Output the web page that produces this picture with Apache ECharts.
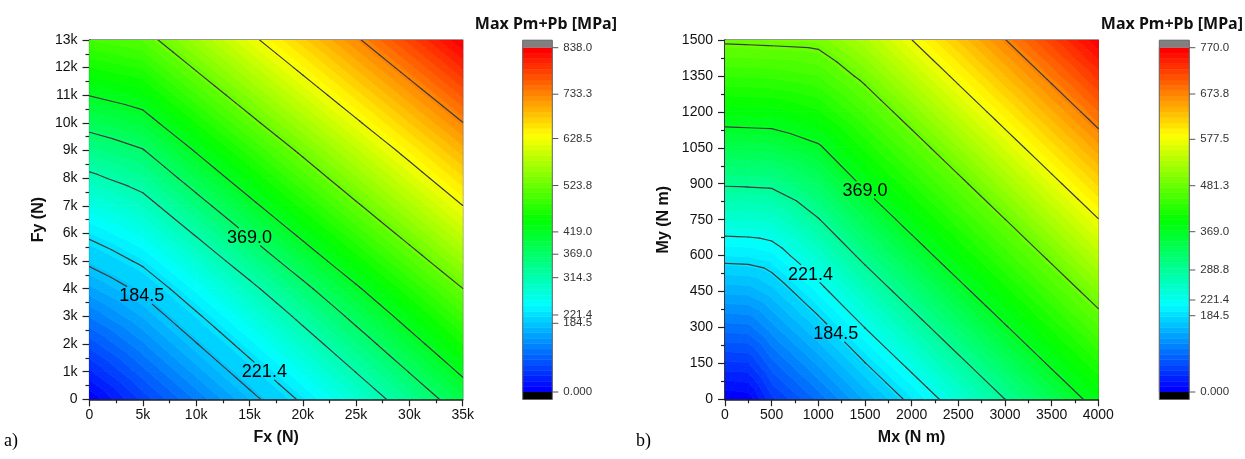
<!DOCTYPE html>
<html><head><meta charset="utf-8">
<script src="https://cdn.jsdelivr.net/npm/echarts@6/dist/echarts.min.js"></script>
<style>html,body{margin:0;padding:0;background:#fff}#c{width:1245px;height:459px}</style>
</head><body><div id="c"></div>
<script>
// ================= DATA =================
// Chart a) : Max Pm+Pb [MPa] vs Fx (N), Fy (N)
const fxValues = [0, 5000, 10000, 15000, 20000, 25000, 30000, 35000];
const fyValues = [0, 1000, 2000, 3000, 4000, 5000, 6000, 7000, 8000, 9000, 10000, 11000, 12000, 13000];
// rows = Fy, columns = Fx
const stressA = [
  [2.0, 63.0, 118.0, 173.0, 228.0, 283.0, 338.0, 393.0],
  [40.5, 95.4, 150.4, 205.4, 260.4, 315.4, 370.4, 425.4],
  [78.4, 127.8, 182.8, 237.8, 292.8, 347.8, 402.8, 457.8],
  [116.3, 160.2, 215.2, 270.2, 325.2, 380.2, 435.2, 490.2],
  [154.2, 193.3, 248.3, 303.3, 358.3, 413.3, 468.3, 523.3],
  [192.0, 228.4, 283.4, 338.4, 393.4, 448.4, 503.4, 558.4],
  [229.4, 263.2, 318.2, 373.2, 428.2, 483.2, 538.2, 593.2],
  [267.5, 298.0, 353.0, 408.0, 463.0, 518.0, 573.0, 628.0],
  [305.6, 332.5, 387.5, 442.5, 497.5, 552.5, 607.5, 662.5],
  [343.8, 366.9, 421.9, 476.9, 531.9, 586.9, 641.9, 696.9],
  [381.9, 402.4, 457.4, 512.4, 567.4, 622.4, 677.4, 732.4],
  [419.8, 437.7, 492.7, 547.7, 602.7, 657.7, 712.7, 767.7],
  [457.7, 472.9, 527.9, 582.9, 637.9, 692.9, 747.9, 802.9],
  [495.6, 508.0, 563.0, 618.0, 673.0, 728.0, 783.0, 838.0]
];
const contourLevelsA = [184.5, 221.4, 314.3, 369.0, 419.0, 523.8, 628.5, 733.3];
const colorbarTicksA = [0, 184.5, 221.4, 314.3, 369.0, 419.0, 523.8, 628.5, 733.3, 838.0];
const colorbarLabelsA = ['0.000', '184.5', '221.4', '314.3', '369.0', '419.0', '523.8', '628.5', '733.3', '838.0'];
const contourLabelLevelsA = [184.5, 221.4, 369.0];
const contourLabelAtA = [4900, 16400, 15000];   // Fx where each label sits on its line

// Chart b) : Max Pm+Pb [MPa] vs Mx (N m), My (N m)
const mxValues = [0, 250, 500, 1000, 1500, 2000, 2500, 3000, 3500, 4000];
const myValues = [0, 150, 300, 450, 600, 750, 900, 1050, 1200, 1350, 1500];
// rows = My, columns = Mx
const stressB = [
  [0.6, 4.0, 48.0, 95.0, 145.2, 193.0, 240.9, 288.7, 336.6, 384.4],
  [49.2, 51.0, 86.4, 133.4, 183.6, 231.4, 279.3, 327.1, 375.0, 422.8],
  [97.8, 99.5, 124.8, 171.8, 222.0, 269.8, 317.7, 365.5, 413.4, 461.2],
  [146.4, 148.0, 163.2, 210.2, 260.4, 308.2, 356.1, 403.9, 451.8, 499.6],
  [195.0, 196.3, 203.3, 248.6, 298.8, 346.6, 394.5, 442.3, 490.2, 538.0],
  [243.6, 244.8, 247.9, 287.0, 337.2, 385.0, 432.9, 480.7, 528.6, 576.4],
  [292.2, 293.3, 294.9, 325.4, 375.6, 423.4, 471.3, 519.1, 567.0, 614.8],
  [340.8, 341.9, 343.2, 363.8, 414.0, 461.8, 509.7, 557.5, 605.4, 653.2],
  [389.4, 390.5, 391.7, 408.2, 452.4, 500.2, 548.1, 595.9, 643.8, 691.6],
  [438.0, 439.1, 440.4, 450.2, 490.8, 538.6, 586.5, 634.3, 682.2, 730.0],
  [486.6, 487.7, 489.1, 492.2, 529.2, 577.0, 624.9, 672.7, 720.6, 768.4]
];
const contourLevelsB = [184.5, 221.4, 288.8, 369.0, 481.3, 577.5, 673.8];
const colorbarTicksB = [0, 184.5, 221.4, 288.8, 369.0, 481.3, 577.5, 673.8, 770.0];
const colorbarLabelsB = ['0.000', '184.5', '221.4', '288.8', '369.0', '481.3', '577.5', '673.8', '770.0'];
const contourLabelLevelsB = [369.0, 221.4, 184.5];
const contourLabelAtB = [1500, 916, 1186];      // Mx where each label sits on its line

// ================= LAYOUT / STYLE =================
// relative position of each colour-scale tick along the colour bar (Origin equal-height levels)
const cbPosA = [0, 0.1995, 0.2237, 0.3321, 0.4002, 0.4650, 0.5997, 0.7362, 0.8649, 1];
const cbPosB = [0, 0.2216, 0.2672, 0.3543, 0.4656, 0.5992, 0.7339, 0.8655, 1];
const NLEV = 64;
const SANS = '"Liberation Sans", Arial, sans-serif';

function makeMap(ticks, pos) {
  const n = ticks.length;
  function f(v) {
    let i = 1;
    while (i < n - 1 && v > ticks[i]) i++;
    return pos[i - 1] + (v - ticks[i - 1]) / (ticks[i] - ticks[i - 1]) * (pos[i] - pos[i - 1]);
  }
  function inv(t) {
    let i = 1;
    while (i < n - 1 && t > pos[i]) i++;
    return ticks[i - 1] + (t - pos[i - 1]) / (pos[i] - pos[i - 1]) * (ticks[i] - ticks[i - 1]);
  }
  return { f, inv };
}
const stops = [[0, [0, 0, 255]], [0.25, [0, 255, 255]], [0.5, [0, 255, 0]], [0.75, [255, 255, 0]], [1, [255, 0, 0]]];
function pal(t) {
  t = Math.max(0, Math.min(1, t));
  for (let i = 1; i < stops.length; i++) {
    if (t <= stops[i][0]) {
      const a = stops[i - 1], b = stops[i];
      const u = (t - a[0]) / (b[0] - a[0]);
      const c = a[1].map((v, k) => Math.round(v + (b[1][k] - v) * u));
      return 'rgb(' + c.join(',') + ')';
    }
  }
  return 'rgb(255,0,0)';
}
const bandColors = [];
for (let k = 0; k < NLEV; k++) bandColors.push(pal(k / (NLEV - 1)));

function makeBands(map) {
  const vals = [];
  for (let k = 0; k <= NLEV; k++) vals.push(map.inv(k / NLEV));
  return {
    vals,
    idx(z) { return Math.max(0, Math.min(NLEV - 1, Math.floor(map.f(z) * NLEV))); }
  };
}

function cellTris(api, xs, ys, Z, i, j) {
  const P = (a, b) => { const c = api.coord([xs[a], ys[b]]); return { x: c[0], y: c[1], z: Z[b][a] }; };
  const p00 = P(i, j), p10 = P(i + 1, j), p11 = P(i + 1, j + 1), p01 = P(i, j + 1);
  return [[p00, p10, p11], [p00, p11, p01]];
}
function clipPoly(poly, level, above) {
  const out = [];
  for (let k = 0; k < poly.length; k++) {
    const a = poly[k], b = poly[(k + 1) % poly.length];
    const ia = above ? a.z >= level : a.z < level;
    const ib = above ? b.z >= level : b.z < level;
    if (ia) out.push(a);
    if (ia !== ib) {
      const t = (level - a.z) / (b.z - a.z);
      out.push({ x: a.x + t * (b.x - a.x), y: a.y + t * (b.y - a.y), z: level });
    }
  }
  return out;
}

function fillSeries(xs, ys, Z, bands, gi) {
  const data = [];
  for (let j = 0; j < ys.length - 1; j++)
    for (let i = 0; i < xs.length - 1; i++) data.push([xs[i], ys[j], i, j]);
  return {
    type: 'custom', xAxisIndex: gi, yAxisIndex: gi, clip: true, z: 1, silent: true,
    encode: { x: 0, y: 1 }, data,
    renderItem(params, api) {
      const i = api.value(2), j = api.value(3);
      const children = [];
      for (const tri of cellTris(api, xs, ys, Z, i, j)) {
        const zs = tri.map(p => p.z);
        const k0 = bands.idx(Math.min(...zs)), k1 = bands.idx(Math.max(...zs));
        for (let k = k0; k <= k1; k++) {
          let poly = tri;
          if (k > k0) poly = clipPoly(poly, bands.vals[k], true);
          if (k < k1 && poly.length) poly = clipPoly(poly, bands.vals[k + 1], false);
          if (poly.length < 3) continue;
          const c = bandColors[k];
          children.push({ type: 'polygon', shape: { points: poly.map(p => [p.x, p.y]) },
            style: { fill: c, stroke: c, lineWidth: 0.8 } });
        }
      }
      return { type: 'group', children };
    }
  };
}

const measureCtx = document.createElement('canvas').getContext('2d');
const LABEL_FONT = '18px ' + SANS;
function levelSegs(api, xs, ys, Z, L) {
  const segs = [];
  for (let j = 0; j < ys.length - 1; j++)
    for (let i = 0; i < xs.length - 1; i++)
      for (const tri of cellTris(api, xs, ys, Z, i, j)) {
        const pts = [];
        for (let e = 0; e < 3; e++) {
          const a = tri[e], b = tri[(e + 1) % 3];
          if ((a.z >= L) !== (b.z >= L)) {
            const t = (L - a.z) / (b.z - a.z);
            pts.push([a.x + t * (b.x - a.x), a.y + t * (b.y - a.y)]);
          }
        }
        if (pts.length === 2) segs.push(pts);
      }
  return segs;
}
function insideInterval(s, r) {
  // Liang-Barsky: parameter range of segment s inside rect r
  const [x0, y0] = s[0], [x1, y1] = s[1];
  const dx = x1 - x0, dy = y1 - y0;
  let t0 = 0, t1 = 1;
  const p = [-dx, dx, -dy, dy], q = [x0 - r.x0, r.x1 - x0, y0 - r.y0, r.y1 - y0];
  for (let k = 0; k < 4; k++) {
    if (p[k] === 0) { if (q[k] < 0) return null; }
    else {
      const t = q[k] / p[k];
      if (p[k] < 0) { if (t > t1) return null; if (t > t0) t0 = t; }
      else { if (t < t0) return null; if (t < t1) t1 = t; }
    }
  }
  return [t0, t1];
}
function contourSeries(xs, ys, Z, levels, labelLevels, labelAt, gi) {
  return {
    type: 'custom', xAxisIndex: gi, yAxisIndex: gi, clip: true, z: 3, silent: true,
    encode: { x: 0, y: 1 }, data: levels.map((L, k) => [xs[0], ys[0], k]),
    renderItem(params, api) {
      const L = levels[api.value(2)];
      const segs = levelSegs(api, xs, ys, Z, L);
      const children = [];
      const rects = [];
      labelLevels.forEach((lv, n) => {
        if (lv !== L) return;
        const px = api.coord([labelAt[n], ys[0]])[0];
        let py = null;
        for (const s of segs) {
          const a = s[0], b = s[1];
          if ((a[0] - px) * (b[0] - px) <= 0 && a[0] !== b[0]) {
            py = a[1] + (px - a[0]) / (b[0] - a[0]) * (b[1] - a[1]); break;
          }
        }
        if (py === null) return;
        const text = lv.toFixed(1);
        measureCtx.font = LABEL_FONT;
        const w = measureCtx.measureText(text).width;
        rects.push({ x0: px - w / 2 - 2, x1: px + w / 2 + 2, y0: py - 9, y1: py + 9 });
        children.push({ type: 'text', x: px, y: py + 1, z2: 5,
          style: { text, font: LABEL_FONT, fill: '#000', align: 'center', verticalAlign: 'middle' } });
      });
      for (const s of segs) {
        let parts = [[0, 1]];
        for (const r of rects) {
          const iv = insideInterval(s, r);
          if (!iv) continue;
          const np = [];
          for (const [a, b] of parts) {
            if (iv[1] <= a || iv[0] >= b) { np.push([a, b]); continue; }
            if (iv[0] > a) np.push([a, iv[0]]);
            if (iv[1] < b) np.push([iv[1], b]);
          }
          parts = np;
        }
        for (const [a, b] of parts) {
          const P = t => [s[0][0] + t * (s[1][0] - s[0][0]), s[0][1] + t * (s[1][1] - s[0][1])];
          const p1 = P(a), p2 = P(b);
          children.push({ type: 'line', shape: { x1: p1[0], y1: p1[1], x2: p2[0], y2: p2[1] },
            style: { stroke: '#3c3c3c', lineWidth: 1.2, lineCap: 'round' } });
        }
      }
      return { type: 'group', children };
    }
  };
}

function colorbarSeries(gi) {
  const data = [];
  for (let k = 0; k < NLEV; k++) data.push([0.5, (k + 0.5) / NLEV, k]);
  return {
    type: 'custom', xAxisIndex: gi, yAxisIndex: gi, clip: false, z: 1, silent: true,
    encode: { x: 0, y: 1 }, data,
    renderItem(params, api) {
      const k = api.value(2);
      const a = api.coord([0, (k + 1) / NLEV]), b = api.coord([1, k / NLEV]);
      const c = bandColors[k];
      return { type: 'rect', shape: { x: a[0], y: a[1], width: b[0] - a[0], height: b[1] - a[1] },
        style: { fill: c, stroke: c, lineWidth: 0.5 } };
    }
  };
}
function colorbarFrameSeries(gi, ticks, labels, map) {
  const data = ticks.map((v, i) => [1, map.f(v), i]);
  return {
    type: 'custom', xAxisIndex: gi, yAxisIndex: gi, clip: false, z: 4, silent: true,
    encode: { x: 0, y: 1 }, data,
    renderItem(params, api) {
      const i = api.value(2);
      const p = api.coord([1, map.f(ticks[i])]);
      const children = [
        { type: 'line', shape: { x1: p[0], y1: p[1], x2: p[0] + 6, y2: p[1] }, style: { stroke: '#555', lineWidth: 1 } },
        { type: 'text', x: p[0] + 11, y: p[1], style: { text: labels[i], font: '11.5px ' + SANS, fill: '#333', align: 'left', verticalAlign: 'middle' } }
      ];
      if (i === 0) {
        const tl = api.coord([0, 1]), br = api.coord([1, 0]);
        const w = br[0] - tl[0];
        children.push({ type: 'rect', shape: { x: tl[0], y: tl[1] - 7.5, width: w, height: 7.5 }, style: { fill: '#808080' } });
        children.push({ type: 'rect', shape: { x: tl[0], y: br[1], width: w, height: 7.5 }, style: { fill: '#000' } });
        children.push({ type: 'rect', shape: { x: tl[0], y: tl[1] - 7.5, width: w, height: br[1] - tl[1] + 15 },
          style: { fill: 'none', stroke: '#666', lineWidth: 1 } });
      }
      return { type: 'group', children };
    }
  };
}

const mapA = makeMap(colorbarTicksA, cbPosA), mapB = makeMap(colorbarTicksB, cbPosB);
const bandsA = makeBands(mapA), bandsB = makeBands(mapB);

const kFmt = v => v === 0 ? '0' : (v / 1000) + 'k';
const plainFmt = v => String(v);
function valueAxis(extra) {
  return Object.assign({
    type: 'value', splitLine: { show: false },
    axisLine: { show: true, onZero: false, lineStyle: { color: '#222', width: 1.5 } },
    axisTick: { show: true, length: 7, lineStyle: { color: '#222', width: 1.2 } },
    minorTick: { show: true, splitNumber: 2, length: 4, lineStyle: { color: '#222', width: 1.2 } },
    axisLabel: { fontSize: 14, fontFamily: SANS, color: '#111' },
    nameLocation: 'middle',
    nameTextStyle: { fontSize: 16, fontWeight: 'bold', fontFamily: SANS, color: '#111' }
  }, extra);
}
const hidden = (gi) => ({ type: 'value', gridIndex: gi, min: 0, max: 1, show: false });

const option = {
  animation: false,
  backgroundColor: '#fff',
  grid: [
    { left: 89.5, top: 40, width: 373.2, height: 359.3, show: true, borderColor: '#333', borderWidth: 1.2, backgroundColor: 'transparent' },
    { left: 725, top: 40, width: 373.3, height: 359.3, show: true, borderColor: '#333', borderWidth: 1.2, backgroundColor: 'transparent' },
    { left: 522.7, top: 47.7, width: 29.6, height: 344.3 },
    { left: 1159.3, top: 47.7, width: 30, height: 344.3 }
  ],
  xAxis: [
    valueAxis({ gridIndex: 0, min: 0, max: 35000, interval: 5000, name: 'Fx (N)', nameGap: 30,
      axisLabel: { fontSize: 14, fontFamily: SANS, color: '#111', margin: 9, formatter: kFmt } }),
    valueAxis({ gridIndex: 1, min: 0, max: 4000, interval: 500, name: 'Mx (N m)', nameGap: 30,
      axisLabel: { fontSize: 14, fontFamily: SANS, color: '#111', margin: 9, formatter: plainFmt } }),
    hidden(2), hidden(3)
  ],
  yAxis: [
    valueAxis({ gridIndex: 0, min: 0, max: 13000, interval: 1000, name: 'Fy (N)', nameGap: 43,
      axisLabel: { fontSize: 14, fontFamily: SANS, color: '#111', margin: 12, formatter: kFmt } }),
    valueAxis({ gridIndex: 1, min: 0, max: 1500, interval: 150, name: 'My (N m)', nameGap: 53,
      axisLabel: { fontSize: 14, fontFamily: SANS, color: '#111', margin: 12, formatter: plainFmt } }),
    hidden(2), hidden(3)
  ],
  graphic: [
    { type: 'text', right: 1245 - 617, top: 16, style: { text: 'Max Pm+Pb [MPa]', font: 'bold 16px "Noto Sans", sans-serif', fill: '#111' } },
    { type: 'text', right: 2, top: 16, style: { text: 'Max Pm+Pb [MPa]', font: 'bold 16px "Noto Sans", sans-serif', fill: '#111' } },
    { type: 'text', left: 4, top: 432, style: { text: 'a)', font: '18px "Liberation Serif", serif', fill: '#000' } },
    { type: 'text', left: 636, top: 432, style: { text: 'b)', font: '18px "Liberation Serif", serif', fill: '#000' } }
  ],
  series: [
    fillSeries(fxValues, fyValues, stressA, bandsA, 0),
    contourSeries(fxValues, fyValues, stressA, contourLevelsA, contourLabelLevelsA, contourLabelAtA, 0),
    fillSeries(mxValues, myValues, stressB, bandsB, 1),
    contourSeries(mxValues, myValues, stressB, contourLevelsB, contourLabelLevelsB, contourLabelAtB, 1),
    colorbarSeries(2), colorbarFrameSeries(2, colorbarTicksA, colorbarLabelsA, mapA),
    colorbarSeries(3), colorbarFrameSeries(3, colorbarTicksB, colorbarLabelsB, mapB)
  ]
};
const chart = echarts.init(document.getElementById('c'));
chart.setOption(option);
</script></body></html>
